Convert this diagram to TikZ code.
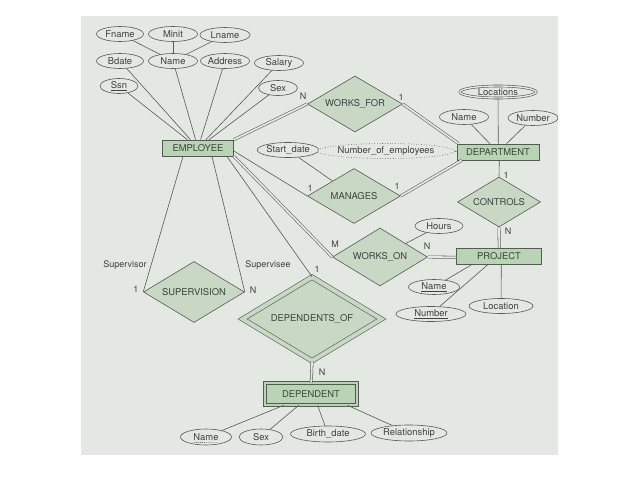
\documentclass[tikz,border=0pt]{standalone}
\usepackage{fontspec}
\setmainfont{TeX Gyre Heros}
\usetikzlibrary{shapes.geometric,calc}
\definecolor{pagebg}{HTML}{E4E8E3}
\definecolor{entfill}{HTML}{B9D4B5}
\definecolor{relfill}{HTML}{C8D8C5}
\definecolor{ink}{HTML}{555A55}
\definecolor{txt}{HTML}{3E423E}
\begin{document}
\begin{tikzpicture}[x=1pt,y=-1pt,
  font=\fontsize{9.4}{10}\selectfont, text=txt,
  attr/.style={ellipse, draw=ink, fill=pagebg, inner sep=0pt, line width=0.6pt, minimum height=15pt},
  ent/.style={rectangle, draw=ink, fill=entfill, inner sep=0pt, line width=0.7pt},
  rel/.style={diamond, aspect=1.7, draw=ink, fill=relfill, inner sep=0pt, line width=0.6pt},
  conn/.style={draw=ink, line width=0.6pt},
  tot/.style={draw=ink, line width=0.55pt, double=pagebg, double distance=1.8pt},
  card/.style={inner sep=0pt, font=\fontsize{9}{10}\selectfont}]

% page background
\useasboundingbox (0,0) rectangle (638,479);
\fill[white] (0,0) rectangle (638,479);
\fill[pagebg] (81,16) rectangle (558,455);

% entities
\node[ent, minimum width=71pt, minimum height=16pt] (EMP) at (198,148) {EMPLOYEE};
\node[ent, minimum width=82pt, minimum height=16pt] (DEPT) at (498,152) {DEPARTMENT};
\node[ent, minimum width=85pt, minimum height=16pt] (PROJ) at (499,256) {PROJECT};
\node[ent, minimum width=92pt, minimum height=22pt, double=entfill, double distance=2.6pt] (DEP) at (311,394) {DEPENDENT};

% relationships
\node[rel, minimum width=95pt, minimum height=56pt] (WF) at (355,104) {WORKS\_FOR};
\node[rel, minimum width=93pt, minimum height=55pt] (MAN) at (354,196) {MANAGES};
\node[rel, minimum width=83pt, minimum height=50pt] (CTRL) at (499,202) {CONTROLS};
\node[rel, minimum width=95pt, minimum height=58pt] (WO) at (380,257) {WORKS\_ON};
\node[rel, minimum width=101pt, minimum height=61pt] (SUP) at (194,292) {SUPERVISION};
\node[rel, minimum width=139pt, minimum height=84pt, double=relfill, double distance=4pt] (DO) at (312,319) {DEPENDENTS\_OF};

% attributes
\node[attr, minimum width=47pt] (Fname) at (120,34) {Fname};
\node[attr, minimum width=49pt] (Minit) at (173,34) {Minit};
\node[attr, minimum width=50pt] (Lname) at (225,35) {Lname};
\node[attr, minimum width=47pt] (Bdate) at (120,61) {Bdate};
\node[attr, minimum width=49pt] (EName) at (173,61) {Name};
\node[attr, minimum width=49pt] (Addr) at (225,61) {Address};
\node[attr, minimum width=49pt] (Salary) at (279,63) {Salary};
\node[attr, minimum width=38pt] (Ssn) at (119,86) {\underline{Ssn}};
\node[attr, minimum width=39pt] (Sex) at (278,88) {Sex};
\node[attr, minimum width=76pt, minimum height=12pt, double=pagebg, double distance=1.4pt] (Loc) at (498,92) {Locations};
\node[attr, minimum width=49pt] (DName) at (464,117) {Name};
\node[attr, minimum width=50pt] (DNum) at (533,118) {Number};
\node[attr, minimum width=53pt] (SDate) at (288,150) {Start\_date};
\node[attr, dotted, minimum width=112pt] (NoE) at (386,151) {Number\_of\_employees};
\node[attr, minimum width=48pt] (Hours) at (439,226) {Hours};
\node[attr, minimum width=51pt] (PName) at (434,287) {\underline{Name}};
\node[attr, minimum width=70pt] (PNum) at (431,314) {\underline{Number}};
\node[attr, minimum width=64pt] (PLoc) at (501,306) {Location};
\node[attr, minimum width=51pt, minimum height=16pt] (DpName) at (206,437) {Name};
\node[attr, minimum width=44pt, minimum height=16pt] (DpSex) at (261,437) {Sex};
\node[attr, minimum width=75pt, minimum height=16pt] (BDate) at (328,434) {Birth\_date};
\node[attr, minimum width=76pt, minimum height=16pt] (Rel) at (409,433) {Relationship};
% partial key underline
\draw[draw=txt, line width=0.4pt, dash pattern=on 1.2pt off 0.9pt] ($(DpName)+(-12.5,5.4)$) -- ($(DpName)+(12.5,5.5)$);

% attribute connectors
\draw[conn] (Fname) -- (EName);
\draw[conn] (Minit) -- (EName);
\draw[conn] (Lname) -- (EName);
\draw[conn] (Bdate) -- (EMP);
\draw[conn] (EName) -- (EMP);
\draw[conn] (Addr) -- (EMP);
\draw[conn] (Salary) -- (EMP);
\draw[conn] (Ssn) -- (EMP);
\draw[conn] (Sex) -- (EMP);
\draw[conn] (Loc) -- ($(Loc |- DEPT.north)+(0.3,0)$);
\draw[conn] (DName) -- (DEPT);
\draw[conn] (DNum) -- (DEPT);
\draw[conn] (NoE) -- ($(NoE -| DEPT.west)+(0,0.3)$);
\draw[conn] (SDate) -- (MAN);
\draw[conn] (Hours) -- (WO);
\draw[conn] (PName) -- ($(PROJ.south west)+(16,0)$);
\draw[conn] (PNum) -- ($(PROJ.south west)+(32,0)$);
\draw[conn] (PLoc) -- ($(PLoc |- PROJ.south)+(0.3,0)$);
\draw[conn] (DpName) -- ($(DEP.south west)+(19,0)$);
\draw[conn] (DpSex) -- ($(DEP.south west)+(34,0)$);
\draw[conn] (BDate) -- ($(DEP.south west)+(53,0)$);
\draw[conn] (Rel) -- ($(DEP.south west)+(83,0)$);

% relationship connectors
\draw[tot] (EMP.north east) -- (WF.west);
\draw[tot] (WF.east) -- ($(DEPT.north west)+(2,0)$);
\draw[conn] ($(EMP.east)+(0,3)$) -- (MAN.west);
\draw[tot] (MAN.east) -- ($(DEPT.south west)+(5,0)$);
\draw[conn] ($(DEPT.south -| CTRL.north)+(0.3,0)$) -- (CTRL.north);
\draw[tot] (CTRL.south) -- ($(CTRL.south |- PROJ.north)+(0.3,0)$);
\draw[tot] (EMP.south east) -- (WO.west);
\draw[tot] (WO.east) -- ($(WO.east -| PROJ.west)+(0,0.3)$);
\draw[conn] ($(EMP.south)+(-15,0)$) -- (SUP.west);
\draw[conn] ($(EMP.south)+(14,0)$) -- (SUP.east);
\draw[conn] ($(EMP.south east)+(-7,0)$) -- (DO.north);
\draw[tot] (DO.south) -- ($(DEP.north)+(0.3,0)$);

% cardinality and role labels
\node[card] (cWF1) at (303,96) {N};
\node[card] (cWF2) at (401,97) {1};
\node[card] (cMA1) at (310,188) {1};
\node[card] (cMA2) at (397,186) {1};
\node[card] (cCT1) at (506,175) {1};
\node[card] (cCT2) at (508,231) {N};
\node[card] (cWO1) at (335,244) {M};
\node[card] (cWO2) at (427,246) {N};
\node[card] (rSup) at (125,265) {Supervisor};
\node[card] (rSee) at (268,265) {Supervisee};
\node[card] (cSU1) at (136,289) {1};
\node[card] (cSU2) at (253,290) {N};
\node[card] (cDO1) at (317,269) {1};
\node[card] (cDO2) at (322,372) {N};
\end{tikzpicture}
\end{document}
